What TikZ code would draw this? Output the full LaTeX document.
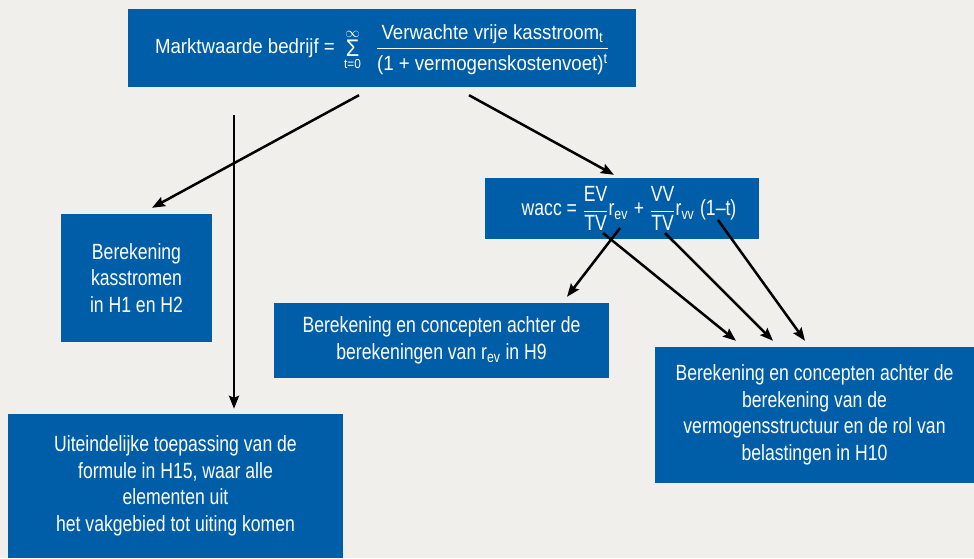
\documentclass[tikz,border=0pt]{standalone}
\usepackage{fontspec}
\setmainfont{Liberation Sans}[FakeStretch=0.8]
\newfontfamily\topfont{Liberation Sans}[FakeStretch=0.91]
\usetikzlibrary{arrows.meta}
\definecolor{boxblue}{HTML}{005EA8}
\definecolor{bgc}{HTML}{F0EFEB}
\newcommand\txtsz{\fontsize{22}{26.5}\selectfont}
\newcommand\topsz{\topfont\fontsize{20.5}{26}\selectfont}
\newcommand\limsz{\fontsize{13}{13}\selectfont}
\newcommand\bigsig{\fontsize{24}{24}\selectfont Σ}
\tikzset{
  box/.style={fill=boxblue, text=white, inner sep=0pt, align=center, font=\txtsz},
  arr/.style={-{Stealth[length=13pt,width=10pt,inset=2pt]}, line width=2.5pt, black},
}
\begin{document}
\begin{tikzpicture}[x=1pt,y=-1pt]
\fill[bgc] (0,0) rectangle (974,558);
\useasboundingbox (0,0) rectangle (974,558);

\node[box, font=\topsz, minimum width=508pt, minimum height=78pt] (top) at (382,48)
 {\raisebox{-2pt}[\height][\depth]{$\mbox{Marktwaarde bedrijf =}\;
   \mathop{\raisebox{-3pt}{\bigsig}}\limits^{\raisebox{1pt}{$\scriptstyle\infty$}}_{\raisebox{-6pt}{\limsz t=0}}\;\;
   \displaystyle\frac{\mbox{Verwachte vrije kasstroom\textsubscript{t}}}{\rule{0pt}{21pt}\mbox{(1 + vermogenskostenvoet)\textsuperscript{t}}}$}};

\node[box, minimum width=274pt, minimum height=61pt] (wacc) at (622,208.5)
 {\hspace*{14pt}$\displaystyle\mbox{wacc =}\;\frac{\mbox{EV}}{\mbox{TV}}\mbox{r\textsubscript{ev}}\;\mbox{+}\;\frac{\mbox{VV}}{\mbox{TV}}\mbox{r\textsubscript{vv}}\;\mbox{(1–t)}$};

\node[box, minimum width=151pt, minimum height=128pt] (kas) at (136.5,278)
 {Berekening\\kasstromen\\in H1 en H2};

\node[box, minimum width=335pt, minimum height=75pt] (rev) at (441.5,340.5)
 {Berekening en concepten achter de\\berekeningen van r\textsubscript{ev} in H9};

\node[box, minimum width=319pt, minimum height=136pt] (h10) at (814.5,415)
 {Berekening en concepten achter de\\berekening van de\\vermogensstructuur en de rol van\\belastingen in H10};

\node[box, minimum width=335pt, minimum height=144pt] (fin) at (175.5,486)
 {Uiteindelijke toepassing van de\\formule in H15, waar alle\\elementen uit\\het vakgebied tot uiting komen};

\coordinate (vstart) at (234,115);

\draw[arr] ([xshift=-23pt,yshift=-8pt]top.south) -- ([xshift=15.5pt,yshift=6pt]kas.north);
\draw[arr] (vstart) -- ([xshift=58.5pt,yshift=5pt]fin.north);
\draw[arr] ([xshift=87pt,yshift=-8pt]top.south) -- ([xshift=-8pt,yshift=3pt]wacc.north);
\draw[arr] ([xshift=-2pt,yshift=-19.5pt]wacc.center) -- ([xshift=125.5pt,yshift=6pt]rev.north);
\draw[arr] ([xshift=-19pt,yshift=-24.5pt]wacc.center) -- ([xshift=-78.5pt,yshift=6pt]h10.north);
\draw[arr] ([xshift=43pt,yshift=-24.5pt]wacc.center) -- ([xshift=-41.5pt,yshift=6pt]h10.north);
\draw[arr] ([xshift=96pt,yshift=-11.5pt]wacc.center) -- ([xshift=-9.5pt,yshift=6pt]h10.north);
\end{tikzpicture}
\end{document}
